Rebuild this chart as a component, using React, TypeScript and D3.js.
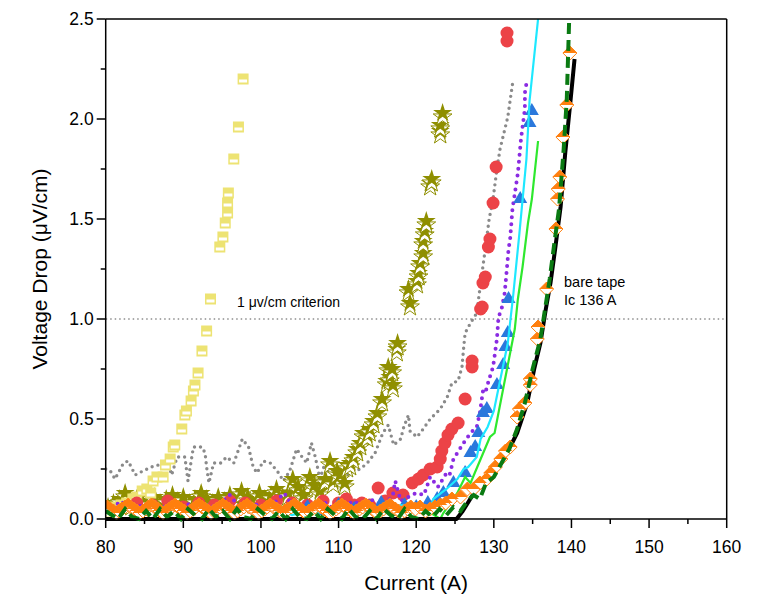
import * as d3 from "d3";

type Pt = [number, number];

// ---- data (current A, voltage drop uV/cm) ----
const grayDotted: Pt[] = [
  [80.0, 0.25], [80.6, 0.24], [81.2, 0.2], [82.3, 0.28], [82.9, 0.29], [83.8, 0.22], [84.8, 0.24],
  [85.9, 0.26], [86.8, 0.27], [87.9, 0.3], [88.5, 0.22], [89.2, 0.31], [90.2, 0.31], [90.6, 0.19],
  [91.3, 0.36], [92.4, 0.36], [92.8, 0.33], [93.0, 0.26], [93.3, 0.18], [93.9, 0.28], [94.8, 0.28],
  [95.6, 0.31], [96.5, 0.28], [97.6, 0.4], [98.4, 0.36], [99.0, 0.26], [99.5, 0.23], [100.3, 0.29],
  [101.2, 0.28], [102.1, 0.24], [102.9, 0.19], [103.7, 0.24], [104.6, 0.35], [105.3, 0.31],
  [105.9, 0.28], [106.5, 0.38], [107.0, 0.31], [107.6, 0.2], [108.1, 0.26], [108.9, 0.23],
  [110.2, 0.2], [111.5, 0.23], [112.8, 0.25], [113.7, 0.28], [114.7, 0.33], [115.7, 0.43],
  [116.4, 0.47], [117.1, 0.37], [118.0, 0.4], [118.4, 0.46], [119.0, 0.52], [119.2, 0.44],
  [120.1, 0.41], [120.9, 0.45], [121.8, 0.5], [123.1, 0.55], [124.0, 0.61], [124.6, 0.68],
  [125.4, 0.69], [125.9, 0.76], [126.1, 0.85], [126.3, 0.93], [127.0, 0.98], [127.8, 1.03],
  [128.2, 1.15], [128.9, 1.35], [129.4, 1.5], [129.9, 1.6], [130.4, 1.75], [130.8, 1.85],
  [131.3, 1.93], [131.8, 2.01], [132.2, 2.12], [132.5, 2.2],
];

const oliveStars: Pt[] = [
  [80.3, 0.06], [81.0, 0.08], [81.8, 0.1], [82.5, 0.13], [83.3, 0.08], [84.0, 0.1], [84.8, 0.07],
  [85.5, 0.09], [86.3, 0.11], [87.0, 0.08], [87.8, 0.1], [88.6, 0.12], [89.3, 0.09], [90.0, 0.11],
  [90.8, 0.08], [91.5, 0.1], [92.3, 0.13], [93.0, 0.1], [93.8, 0.08], [94.5, 0.11], [95.3, 0.09],
  [96.0, 0.12], [96.8, 0.1], [97.5, 0.14], [98.3, 0.11], [99.0, 0.09], [99.8, 0.13], [100.5, 0.1],
  [101.3, 0.12], [102.0, 0.15], [102.8, 0.11], [103.5, 0.13], [104.1, 0.2], [104.8, 0.16],
  [105.5, 0.12], [106.3, 0.21], [106.9, 0.17], [107.6, 0.14], [108.3, 0.2], [108.9, 0.29],
  [109.3, 0.19], [109.8, 0.24], [110.2, 0.22], [110.8, 0.18], [111.1, 0.27], [111.5, 0.28],
  [111.9, 0.31], [112.4, 0.35], [112.8, 0.38], [113.2, 0.43], [113.7, 0.42], [114.0, 0.45],
  [114.5, 0.49], [115.0, 0.53], [115.6, 0.6], [116.2, 0.69], [116.4, 0.76], [116.6, 0.71],
  [116.9, 0.75], [117.0, 0.67], [117.5, 0.85], [117.6, 0.88], [119.0, 1.15], [119.2, 1.08],
  [120.1, 1.19], [120.3, 1.23], [120.5, 1.28], [120.9, 1.33], [120.9, 1.39], [121.1, 1.44],
  [121.3, 1.49], [121.8, 1.68], [122.0, 1.7], [123.1, 1.94], [123.1, 1.97], [123.4, 2.03],
];

const yellowSquares: Pt[] = [
  [80.3, 0.02], [80.6, 0.03], [81.2, 0.06], [82.0, 0.07], [82.7, 0.08], [83.5, 0.1], [84.0, 0.11],
  [84.7, 0.14], [85.3, 0.15], [85.8, 0.13], [86.1, 0.19], [86.6, 0.21], [87.4, 0.21], [87.7, 0.27],
  [88.3, 0.3], [88.7, 0.36], [88.9, 0.37], [89.8, 0.45], [90.2, 0.52], [90.4, 0.54], [91.0, 0.59],
  [91.3, 0.64], [91.5, 0.67], [91.9, 0.73], [92.4, 0.84], [93.0, 0.94], [93.5, 1.1], [94.7, 1.36],
  [95.1, 1.41], [95.4, 1.48], [95.7, 1.53], [95.7, 1.58], [95.8, 1.63], [96.5, 1.8], [97.1, 1.96],
  [97.7, 2.2],
];

const redCircles: Pt[] = [
  [84, 0.08], [86, 0.07], [88, 0.09], [90, 0.06], [92, 0.08], [94, 0.07], [96, 0.09], [98, 0.08],
  [100, 0.07], [102, 0.09], [104, 0.08], [106, 0.07], [108, 0.09], [110, 0.08], [111, 0.1],
  [112, 0.07], [113, 0.08], [114, 0.07], [115.1, 0.155], [116, 0.09], [117, 0.13], [118.3, 0.12],
  [119.5, 0.18], [120.3, 0.2], [120.9, 0.22], [121.8, 0.25], [122.7, 0.26], [123.1, 0.3],
  [123.3, 0.34], [123.7, 0.38], [124.1, 0.42], [124.6, 0.45], [125.4, 0.48], [126.3, 0.6],
  [127.2, 0.76], [127.2, 0.79], [128.3, 1.05], [128.5, 1.06], [128.6, 1.18], [128.9, 1.21],
  [129.3, 1.36], [129.5, 1.4], [129.9, 1.58], [130.3, 1.76], [131.7, 2.39], [131.7, 2.43],
];

const purpleDotted: Pt[] = [
  [80, 0.08], [81, 0.06], [82, 0.09], [83, 0.05], [84, 0.07], [85, 0.06], [86, 0.08], [87, 0.05],
  [88, 0.07], [89, 0.09], [90, 0.06], [91, 0.08], [92, 0.05], [93, 0.07], [94, 0.06], [95, 0.09],
  [96, 0.12], [97, 0.07], [98, 0.05], [99, 0.08], [100, 0.06], [101, 0.07], [102, 0.09],
  [103, 0.13], [104, 0.07], [105, 0.06], [106, 0.08], [107, 0.07], [108, 0.09], [109, 0.06],
  [110, 0.08], [111, 0.07], [112, 0.09], [113, 0.06], [114, 0.1], [115, 0.08], [116, 0.07],
  [117, 0.12], [117.3, 0.19], [118, 0.09], [119, 0.11], [120, 0.13], [121, 0.12], [121.8, 0.21],
  [122.8, 0.16], [123.9, 0.23], [124.3, 0.22], [124.8, 0.3], [125.3, 0.33], [126.1, 0.38],
  [127.0, 0.43], [127.8, 0.46], [128.2, 0.53], [128.6, 0.64], [128.9, 0.63], [129.4, 0.7],
  [129.9, 0.76], [130.4, 0.9], [130.6, 1.01], [131.0, 1.05], [131.4, 1.13], [131.7, 1.26],
  [131.9, 1.35], [132.1, 1.4], [132.4, 1.55], [132.6, 1.6], [133.1, 1.73], [133.5, 1.9],
  [134.0, 2.05], [134.0, 2.13], [134.3, 2.2],
];

const blueTriangles: Pt[] = [
  [104, 0.05], [106, 0.06], [108, 0.04], [110, 0.07], [112, 0.05], [114, 0.06], [115.5, 0.08],
  [117, 0.05], [118.5, 0.07], [120, 0.06], [121.5, 0.08], [122.7, 0.1], [123.5, 0.13],
  [124.8, 0.18], [126.3, 0.23], [127.0, 0.33], [127.6, 0.36], [128.0, 0.43], [128.6, 0.53],
  [129.1, 0.55], [130.4, 0.67], [131.2, 0.77], [131.5, 0.86], [131.8, 0.93], [131.9, 1.1],
  [133.4, 1.6], [134.6, 1.98], [134.9, 2.04],
];

const cyanLine: Pt[] = [
  [100, 0.03], [102, 0.05], [104, 0.02], [106, 0.04], [108, 0.03], [110, 0.05], [112, 0.04],
  [114, 0.06], [116, 0.05], [118, 0.07], [120, 0.06], [121.8, 0.05], [122.2, 0.1], [123.9, 0.15],
  [125.3, 0.2], [126.1, 0.25], [126.7, 0.26], [127.8, 0.31], [128.3, 0.4], [129.2, 0.46],
  [130.0, 0.54], [130.9, 0.71], [131.8, 0.88], [132.5, 1.12], [133.3, 1.43], [134.2, 1.8],
  [134.6, 2.09], [135.7, 2.5],
];

const greenLine: Pt[] = [
  [108, 0.03], [110, 0.05], [112, 0.05], [114, 0.04], [116, 0.06], [118, 0.05], [120, 0.07],
  [121.5, 0.04], [123.1, 0.0], [123.5, 0.03], [125.3, 0.13], [126.3, 0.21], [127.0, 0.18],
  [129.5, 0.41], [130.1, 0.43], [131.7, 0.75], [132.7, 0.95], [133.1, 1.1], [133.7, 1.26],
  [134.4, 1.48], [134.9, 1.6], [135.7, 1.89],
];

const blackLine: Pt[] = [
  [80, 0], [125.2, 0.0], [126.0, 0.04], [126.8, 0.09], [127.6, 0.14], [129.1, 0.2], [130.4, 0.25],
  [132.1, 0.36], [133.0, 0.43], [134.3, 0.58], [135.2, 0.75], [136.0, 0.88], [136.7, 1.05],
  [137.3, 1.18], [137.9, 1.35], [138.6, 1.56], [139.2, 1.83], [139.9, 2.1], [140.4, 2.3],
];

const orangeDiamonds: Pt[] = [
  [80.2, 0.06], [80.6, 0.05], [81.0, 0.04], [81.4, 0.03], [81.7, 0.04], [82.1, 0.05], [82.5, 0.06],
  [82.9, 0.07], [83.2, 0.06], [83.6, 0.05], [84.0, 0.04], [84.4, 0.03], [84.8, 0.04], [85.2, 0.05],
  [85.5, 0.06], [85.9, 0.07], [86.3, 0.06], [86.7, 0.05], [87.0, 0.04], [87.4, 0.03], [87.8, 0.04],
  [88.2, 0.05], [88.5, 0.06], [88.9, 0.07], [89.3, 0.06], [89.7, 0.05], [90.1, 0.04], [90.5, 0.03],
  [90.9, 0.04], [91.3, 0.05], [91.6, 0.06], [92.0, 0.07], [92.4, 0.06], [92.8, 0.05], [93.2, 0.04],
  [93.6, 0.03], [93.9, 0.04], [94.3, 0.05], [94.7, 0.06], [95.1, 0.07], [95.5, 0.06], [95.9, 0.05],
  [96.2, 0.04], [96.6, 0.03], [97.0, 0.04], [97.4, 0.05], [97.8, 0.06], [98.2, 0.07], [98.5, 0.06],
  [98.9, 0.05], [99.3, 0.04], [99.7, 0.03], [100.1, 0.04], [100.5, 0.05], [100.8, 0.06],
  [101.2, 0.07], [101.6, 0.06], [102.0, 0.05], [102.4, 0.04], [102.8, 0.03], [103.1, 0.04],
  [103.5, 0.05], [103.9, 0.06], [104.3, 0.07], [104.7, 0.06], [105.1, 0.05], [105.4, 0.04],
  [105.8, 0.03], [106.2, 0.04], [106.6, 0.05], [107.0, 0.06], [107.4, 0.07], [107.7, 0.06],
  [108.1, 0.05], [108.5, 0.04], [108.9, 0.03], [109.3, 0.04], [109.7, 0.05], [110.0, 0.06],
  [110.4, 0.07], [110.8, 0.06], [111.2, 0.05], [111.6, 0.04], [112.0, 0.03], [112.3, 0.04],
  [112.7, 0.05], [113.1, 0.06], [113.5, 0.07], [113.9, 0.06], [114.3, 0.05], [114.6, 0.04],
  [115.0, 0.03], [115.4, 0.04], [115.8, 0.05], [116.2, 0.06], [116.6, 0.07], [116.9, 0.06],
  [117.3, 0.05], [117.7, 0.04], [118.1, 0.03], [118.5, 0.04], [118.9, 0.05], [119.3, 0.06],
  [119.9, 0.05], [120.5, 0.06], [121.2, 0.04], [121.8, 0.05], [122.4, 0.06], [123.1, 0.07],
  [123.8, 0.08], [124.6, 0.1], [125.7, 0.11], [126.6, 0.15], [127.4, 0.15], [128.2, 0.18],
  [129.1, 0.2], [129.6, 0.23], [130.2, 0.26], [130.9, 0.3], [131.5, 0.34], [132.1, 0.36],
  [133.0, 0.51], [133.3, 0.55], [134.0, 0.58], [134.7, 0.67], [134.7, 0.7], [135.6, 0.9],
  [135.7, 0.96], [136.8, 1.15], [138.0, 1.45], [138.2, 1.6], [138.3, 1.65], [138.5, 1.71],
  [138.9, 1.91], [139.4, 2.07], [139.8, 2.33],
];

const darkGreenDashed: Pt[] = [
  [80.0, 0.04], [80.8, 0.02], [81.6, 0.0], [82.5, 0.05], [83.4, 0.01], [84.3, 0.0], [85.2, 0.04],
  [86.1, 0.0], [87.0, 0.05], [87.9, 0.01], [88.8, 0.04], [89.7, 0.0], [90.6, 0.05], [91.5, 0.02],
  [92.4, 0.0], [93.3, 0.05], [94.2, 0.01], [95.1, 0.04], [96.0, 0.0], [96.9, 0.05], [97.8, 0.01],
  [98.7, 0.0], [99.6, 0.05], [100.5, 0.02], [101.4, 0.0], [102.3, 0.04], [103.2, 0.0],
  [104.1, 0.05], [105.0, 0.01], [105.9, 0.0], [106.8, 0.04], [107.7, 0.0], [108.6, 0.05],
  [109.5, 0.02], [110.4, 0.0], [111.3, 0.05], [112.2, 0.01], [113.1, 0.0], [114.0, 0.04],
  [114.9, 0.0], [115.8, 0.05], [116.7, 0.02], [117.6, 0.0], [118.5, 0.05], [119.4, 0.01],
  [120.3, 0.0], [121.2, 0.04], [122.1, 0.01], [123.0, 0.05], [123.9, 0.02], [124.8, 0.06],
  [125.7, 0.04], [126.6, 0.09], [127.4, 0.12], [128.2, 0.1], [129.0, 0.18], [130.0, 0.21],
  [131.0, 0.28], [132.0, 0.35], [133.0, 0.45], [134.0, 0.58], [135.0, 0.75], [136.0, 0.9],
  [136.6, 1.05], [137.2, 1.2], [137.8, 1.38], [138.4, 1.55], [139.0, 1.85], [139.4, 2.1],
  [139.7, 2.49],
];

const xTicks = [80, 90, 100, 110, 120, 130, 140, 150, 160];
const yTicks = [0, 0.5, 1.0, 1.5, 2.0, 2.5];
const criterion = 1.0;

const W = 769;
const H = 599;
const plot = { left: 105.7, right: 726.7, top: 19, bottom: 519 };
const font = "Arial, 'Liberation Sans', sans-serif";

const App = () => {
  const x = d3.scaleLinear().domain([80, 160]).range([plot.left, plot.right]);
  const y = d3.scaleLinear().domain([0, 2.5]).range([plot.bottom, plot.top]);
  const line = d3
    .line<Pt>()
    .x((d) => x(d[0]))
    .y((d) => y(d[1]));

  const star = d3.symbol().type(d3.symbolStar).size(110)() as string;
  const tri = d3.symbol().type(d3.symbolTriangle).size(85)() as string;

  const xMinor = d3.range(85, 160, 10);
  const yMinor = d3.range(0.25, 2.5, 0.5);

  return (
    <div style={{ position: "absolute", left: 0, top: 0 }}>
      <svg width={W} height={H} style={{ display: "block", background: "#fff" }}>
        <defs>
          <clipPath id="plotClip">
            <rect x={plot.left} y={plot.top} width={plot.right - plot.left} height={plot.bottom - plot.top + 4} />
          </clipPath>
        </defs>

        {/* criterion line */}
        <line
          x1={plot.left}
          x2={plot.right}
          y1={y(criterion)}
          y2={y(criterion)}
          stroke="#555"
          strokeWidth={1}
          strokeDasharray="1.5 3"
        />

        <g clipPath="url(#plotClip)">
          {/* gray dotted */}
          <path d={line(grayDotted) || ""} fill="none" stroke="#8a8a8a" strokeWidth={3.4}
            strokeDasharray="0 6" strokeLinecap="round" />

          {/* olive stars */}
          {oliveStars.map((d, i) => (
            <g key={"s" + i} transform={`translate(${x(d[0])},${y(d[1])})`}>
              <path d={star} transform="translate(0,4)" fill="#fff" stroke="#8f8f00" strokeWidth={1} />
              <path d={star} fill="#8f8f00" />
            </g>
          ))}

          {/* yellow squares */}
          {yellowSquares.map((d, i) => (
            <g key={"q" + i} transform={`translate(${x(d[0])},${y(d[1])})`}>
              <rect x={-5.5} y={-5.5} width={11} height={11} fill="#ede373" />
              <rect x={-4} y={0.5} width={8} height={3} fill="#fff" />
            </g>
          ))}

          {/* red circles */}
          {redCircles.map((d, i) => (
            <circle key={"r" + i} cx={x(d[0])} cy={y(d[1])} r={6.5} fill="#ec4347" />
          ))}

          {/* purple dotted */}
          <path d={line(purpleDotted) || ""} fill="none" stroke="#8a2be2" strokeWidth={4}
            strokeDasharray="0 7" strokeLinecap="round" />

          {/* blue triangles */}
          {blueTriangles.map((d, i) => (
            <path key={"t" + i} d={tri} transform={`translate(${x(d[0])},${y(d[1])})`} fill="#2a78dc" />
          ))}

          {/* cyan */}
          <path d={line(cyanLine) || ""} fill="none" stroke="#1ee8ff" strokeWidth={2.2} />

          {/* green */}
          <path d={line(greenLine) || ""} fill="none" stroke="#2ee82e" strokeWidth={2.2} />

          {/* black */}
          <path d={line(blackLine) || ""} fill="none" stroke="#000" strokeWidth={4} strokeLinejoin="round" />

          {/* orange half-filled diamonds: outlines first, filled halves on top */}
          {orangeDiamonds.map((d, i) => (
            <path key={"ob" + i} transform={`translate(${x(d[0])},${y(d[1])})`}
              d="M0,-7L7,0L0,7L-7,0Z" fill="#fff" stroke="#ff7f0e" strokeWidth={1} />
          ))}
          {orangeDiamonds.map((d, i) => (
            <path key={"ot" + i} transform={`translate(${x(d[0])},${y(d[1])})`}
              d="M-7,0L0,-7L7,0Z" fill="#ff7f0e" />
          ))}

          {/* dark green dashed */}
          <path d={line(darkGreenDashed) || ""} fill="none" stroke="#0a7a12" strokeWidth={4}
            strokeDasharray="11 6" />
        </g>

        {/* frame */}
        <line x1={plot.left} x2={plot.right} y1={plot.top} y2={plot.top} stroke="#000" strokeWidth={1.5} />
        <line x1={plot.right} x2={plot.right} y1={plot.top} y2={plot.bottom} stroke="#000" strokeWidth={1.5} />
        <line x1={plot.left} x2={plot.right} y1={plot.bottom} y2={plot.bottom} stroke="#000" strokeWidth={1.5} />
        <line x1={plot.left} x2={plot.left} y1={plot.top} y2={plot.bottom} stroke="#000" strokeWidth={1.5} />

        {/* x ticks */}
        {xTicks.map((t) => (
          <g key={"xt" + t}>
            <line x1={x(t)} x2={x(t)} y1={plot.bottom} y2={plot.bottom + 9} stroke="#000" strokeWidth={1.5} />
            <text x={x(t)} y={plot.bottom + 34} textAnchor="middle" fontFamily={font} fontSize={17.5} fill="#000">
              {t}
            </text>
          </g>
        ))}
        {xMinor.map((t) => (
          <line key={"xm" + t} x1={x(t)} x2={x(t)} y1={plot.bottom} y2={plot.bottom + 5} stroke="#000" strokeWidth={1.5} />
        ))}

        {/* y ticks */}
        {yTicks.map((t) => (
          <g key={"yt" + t}>
            <line x1={plot.left - 9} x2={plot.left} y1={y(t)} y2={y(t)} stroke="#000" strokeWidth={1.5} />
            <text x={plot.left - 12} y={y(t) + 6} textAnchor="end" fontFamily={font} fontSize={17.5} fill="#000">
              {d3.format(".1f")(t)}
            </text>
          </g>
        ))}
        {yMinor.map((t) => (
          <line key={"ym" + t} x1={plot.left - 5} x2={plot.left} y1={y(t)} y2={y(t)} stroke="#000" strokeWidth={1.5} />
        ))}

        {/* axis titles */}
        <text x={(plot.left + plot.right) / 2} y={590} textAnchor="middle" fontFamily={font} fontSize={21} fill="#000">
          Current (A)
        </text>
        <text
          transform={`translate(47,${(plot.top + plot.bottom) / 2}) rotate(-90)`}
          textAnchor="middle"
          fontFamily={font}
          fontSize={21}
          fill="#000"
        >
          Voltage Drop (μV/cm)
        </text>

        {/* annotations */}
        <text x={237} y={307} fontFamily={font} fontSize={14} fill="#000">1 μv/cm criterion</text>
        <text x={564} y={287} fontFamily={font} fontSize={14.5} fill="#000">bare tape</text>
        <text x={564} y={305} fontFamily={font} fontSize={14.5} fill="#000">Ic 136 A</text>
      </svg>
    </div>
  );
};

export default App;
